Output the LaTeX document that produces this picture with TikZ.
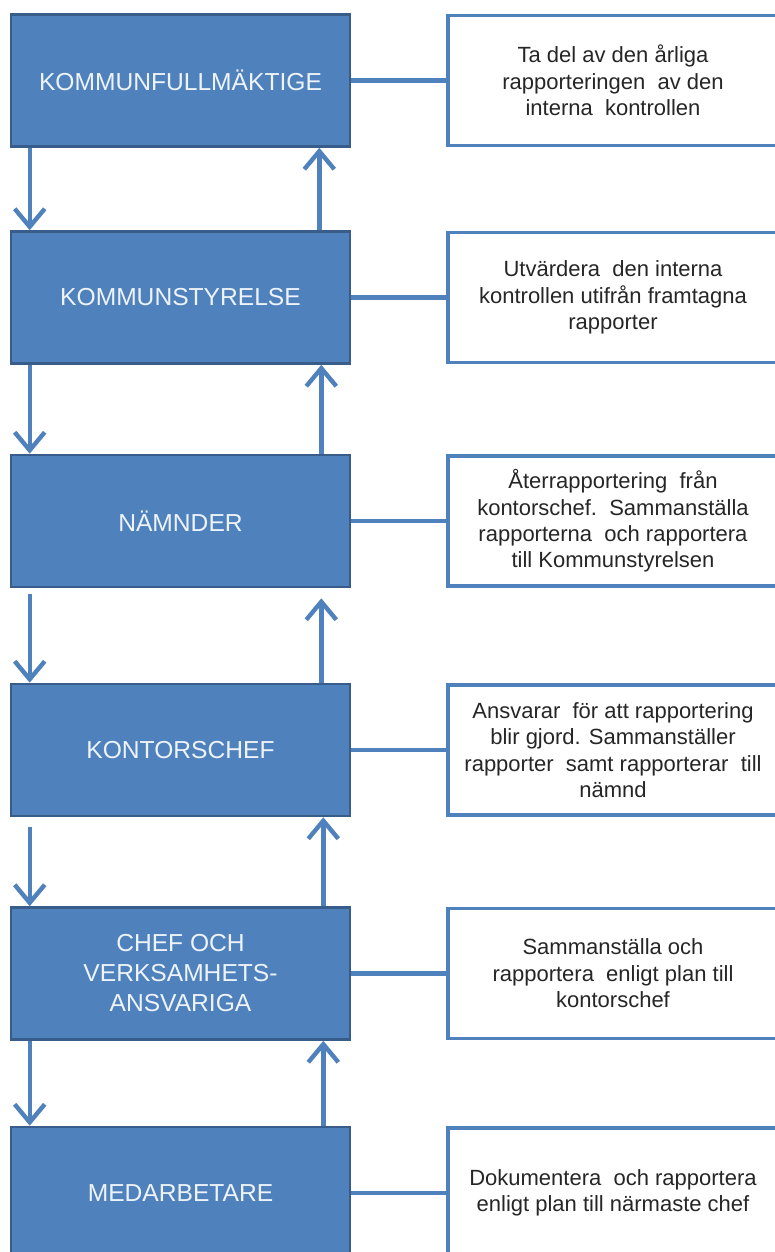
\documentclass[tikz,border=0pt]{standalone}
\usepackage{fontspec}
\setmainfont{Liberation Sans}
\usetikzlibrary{positioning, arrows.meta}

\definecolor{boxblue}{RGB}{79,129,189}
\definecolor{boxedge}{RGB}{56,93,138}

\begin{document}
\begin{tikzpicture}[x=0.5pt, y=-0.5pt,
        level/.style={draw=boxedge, line width=1.3pt, fill=boxblue, text=white!90!boxblue,
            minimum width=169.5pt, minimum height=66pt, inner sep=0pt, align=center,
            font=\fontsize{12.3}{15}\selectfont},
        task/.style={draw=boxblue, line width=1.6pt, fill=white, text=black!85,
            minimum width=165pt, minimum height=65pt, inner sep=0pt, align=center,
            font=\fontsize{11}{13.2}\selectfont},
        link/.style={draw=boxblue, line width=2.2pt},
        flow/.style={link, -{Straight Barb[length=9pt, width=15pt]}}]
                \useasboundingbox (0, 0) rectangle (775, 1252);

                \node [level] (fullmakt) at (180.5, 80.5) {KOMMUNFULLMÄKTIGE};
                \node [level] (styrelse) at (180.5, 297.5) {KOMMUNSTYRELSE};
                \node [level] (namnder) at (180.5, 521) {NÄMNDER};
                \node [level] (kontorschef) at (180.5, 750) {KONTORSCHEF};
                \node [level] (chef) at (180.5, 973.5) {CHEF OCH\\VERKSAMHETS-\\ANSVARIGA};
                \node [level] (medarbetare) at (180.5, 1193) {MEDARBETARE};

                \node [task] (fullmakttask) at (613, 80.5) {Ta del av den årliga\\rapporteringen\ \ av den\\interna\ \ kontrollen};
                \node [task] (styrelsetask) at (613, 297.5) {Utvärdera\ \ den interna\\kontrollen utifrån framtagna\\rapporter};
                \node [task] (namndertask) at (613, 521) {Återrapportering\ \ från\\kontorschef.\ \ Sammanställa\\rapporterna\ \ och rapportera\\till Kommunstyrelsen};
                \node [task] (kontorscheftask) at (613, 750) {Ansvarar\ \ för att rapportering\\blir gjord. Sammanställer\\rapporter\ \ samt rapporterar\ \ till\\nämnd};
                \node [task] (cheftask) at (613, 973.5) {Sammanställa och\\rapportera\ \ enligt plan till\\kontorschef};
                \node [task] (medarbetaretask) at (613, 1193) {Dokumentera\ \ och rapportera\\enligt plan till närmaste chef};

                \draw [link] (fullmakt) -- (fullmakttask);
                \draw [link] (styrelse) -- (styrelsetask);
                \draw [link] (namnder) -- (namndertask);
                \draw [link] (kontorschef) -- (kontorscheftask);
                \draw [link] (chef) -- (cheftask);
                \draw [link] (medarbetare) -- (medarbetaretask);

                \draw [flow] ([xshift=10pt]fullmakt.south west) -- ([xshift=10pt]styrelse.north west);
                \draw [flow] ([xshift=-16pt]styrelse.north east) -- ([xshift=-16pt]fullmakt.south east);

                \draw [flow] ([xshift=10pt]styrelse.south west) -- ([xshift=10pt]namnder.north west);
                \draw [flow] ([xshift=-15pt]namnder.north east) -- ([xshift=-15pt]styrelse.south east);

                \draw [flow, shorten <=3pt] ([xshift=10pt]namnder.south west) -- ([xshift=10pt]kontorschef.north west);
                \draw [flow, shorten >=5pt] ([xshift=-15pt]kontorschef.north east) -- ([xshift=-15pt]namnder.south east);

                \draw [flow, shorten <=5pt] ([xshift=10pt]kontorschef.south west) -- ([xshift=10pt]chef.north west);
                \draw [flow] ([xshift=-14pt]chef.north east) -- ([xshift=-14pt]kontorschef.south east);

                \draw [flow] ([xshift=10pt]chef.south west) -- ([xshift=10pt]medarbetare.north west);
                \draw [flow] ([xshift=-14pt]medarbetare.north east) -- ([xshift=-14pt]chef.south east);
            \end{tikzpicture}
\end{document}
